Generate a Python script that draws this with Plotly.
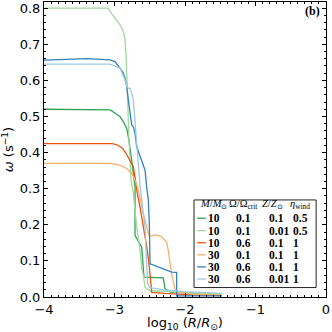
import plotly.graph_objects as go

# log10(R/Rsun) and omega (s^-1) for each model
x_10_01_01 = [-4, -3.06, -2.99, -2.92, -2.875, -2.827, -2.804, -2.78, -2.756, -2.733, -2.709,
              -2.709, -2.614, -2.582, -2.308, -2.284, -2.2, -1.8, -1.5]
y_10_01_01 = [0.52, 0.518, 0.509, 0.499, 0.486, 0.467, 0.444, 0.416, 0.379, 0.342, 0.305,
              0.171, 0.138, 0.055, 0.053, 0.023, 0.013, 0.01, 0.007]

x_10_01_001 = [-4, -3.09, -3.064, -2.993, -2.922, -2.875, -2.851, -2.837, -2.827, -2.813, -2.799,
               -2.78, -2.766, -2.733, -2.685, -2.638, -2.614, -2.591, -2.567, -2.5, -2.2, -1.8, -1.48]
y_10_01_001 = [0.80, 0.80, 0.791, 0.773, 0.754, 0.736, 0.713, 0.676, 0.638, 0.546, 0.453,
               0.379, 0.324, 0.287, 0.194, 0.129, 0.083, 0.060, 0.027, 0.018, 0.014, 0.01, 0.008]

x_10_06_01 = [-4, -3.03, -2.958, -2.887, -2.837, -2.78, -2.733, -2.709, -2.685, -2.638, -2.591,
              -2.553, -2.534, -2.506, -2.486, -2.472, -2.3, -1.9, -1.48]
y_10_06_01 = [0.425, 0.425, 0.421, 0.412, 0.398, 0.379, 0.361, 0.333, 0.296, 0.249, 0.194,
              0.157, 0.129, 0.083, 0.046, 0.013, 0.01, 0.006, 0.004]

x_30_01_01 = [-4, -3.064, -2.922, -2.827, -2.756, -2.709, -2.661, -2.614, -2.567, -2.52, -2.496,
              -2.42, -2.34, -2.26, -2.237, -2.19, -2.143, -2.1, -1.9, -1.5]
y_30_01_01 = [0.37, 0.37, 0.365, 0.356, 0.342, 0.324, 0.296, 0.249, 0.213, 0.176, 0.168,
              0.172, 0.168, 0.152, 0.129, 0.064, 0.023, 0.012, 0.008, 0.006]

x_30_06_01 = [-4, -3.39, -3.064, -2.993, -2.922, -2.875, -2.851, -2.827, -2.804, -2.78, -2.756,
              -2.733, -2.709, -2.685, -2.661, -2.614, -2.591, -2.567, -2.544, -2.52, -2.506,
              -2.496, -2.189, -2.118, -2.118, -1.48]
y_30_06_01 = [0.656, 0.66, 0.657, 0.652, 0.634, 0.62, 0.606, 0.583, 0.546, 0.509, 0.476,
              0.472, 0.453, 0.416, 0.402, 0.379, 0.365, 0.351, 0.305, 0.268, 0.203,
              0.092, 0.069, 0.068, 0.003, 0.003]

x_30_06_001 = [-4, -3.064, -2.922, -2.851, -2.827, -2.804, -2.78, -2.756, -2.733, -2.709, -2.685,
               -2.661, -2.638, -2.591, -2.567, -2.553, -2.544, -2.53, -2.5, -2.3, -2.0, -1.7, -1.47]
y_30_06_001 = [0.645, 0.645, 0.634, 0.601, 0.583, 0.578, 0.578, 0.565, 0.546, 0.472, 0.426,
               0.365, 0.31, 0.231, 0.194, 0.129, 0.064, 0.037, 0.026, 0.02, 0.015, 0.012, 0.01]

mass = ["10", "10", "10", "30", "30", "30"]
omega = ["0.1", "0.1", "0.6", "0.1", "0.6", "0.6"]
metal = ["0.1", "0.01", "0.1", "0.1", "0.1", "0.01"]
eta = ["0.5", "0.5", "1", "1", "1", "1"]
colors = ["#31a354", "#a1d99b", "#e6550d", "#fdae6b", "#3182bd", "#9ecae1"]

xs = [x_10_01_01, x_10_01_001, x_10_06_01, x_30_01_01, x_30_06_01, x_30_06_001]
ys = [y_10_01_01, y_10_01_001, y_10_06_01, y_30_01_01, y_30_06_01, y_30_06_001]

fig = go.Figure()
for i in range(len(xs)):
    fig.add_trace(go.Scatter(x=xs[i], y=ys[i], mode="lines",
                             line=dict(color=colors[i], width=1.3), showlegend=False))

axis_style = dict(showline=True, linecolor="black", linewidth=1, mirror="allticks",
                  ticks="inside", ticklen=4, tickcolor="black", showgrid=False, zeroline=False,
                  tickfont=dict(family="DejaVu Sans", size=13, color="black"))

fig.update_xaxes(range=[-4, 0], dtick=1, tick0=0,
                 minor=dict(ticks="inside", dtick=0.1, ticklen=2, tickcolor="black"),
                 title=dict(text="log<sub>10</sub> (<i>R</i>/<i>R</i><sub>⊙</sub>)",
                            font=dict(family="DejaVu Sans", size=13, color="black"), standoff=4),
                 **axis_style)
fig.update_yaxes(range=[0, 0.817], dtick=0.1, tick0=0, tickformat=".1f",
                 minor=dict(ticks="inside", dtick=0.02, ticklen=2, tickcolor="black"),
                 title=dict(text="<i>ω</i> (s<sup>−1</sup>)",
                            font=dict(family="DejaVu Sans", size=13, color="black"), standoff=4),
                 **axis_style)

# legend table drawn by hand
shapes = [dict(type="rect", xref="paper", yref="paper", x0=0.532, x1=0.965, y0=0.032, y1=0.329,
               line=dict(color="#222222", width=1), fillcolor="white", layer="above")]
annotations = []
serif = "Liberation Serif"
hdr_y = 0.312
headers = [("<i>M</i>/<i>M</i><sub>⊙</sub>", 0.551), ("Ω/Ω<sub>crit</sub>", 0.651),
           ("<i>Z</i>/<i>Z</i><sub>⊙</sub>", 0.770), ("<i>η</i><sub>wind</sub>", 0.870)]
for txt, xp in headers:
    annotations.append(dict(text=txt, x=xp, y=hdr_y, xref="paper", yref="paper",
                            xanchor="left", yanchor="middle", showarrow=False, borderpad=0,
                            font=dict(family=serif, size=10.5, color="black")))
row_y = [0.267, 0.225, 0.184, 0.143, 0.102, 0.061]
col_x = [0.578, 0.677, 0.794, 0.878]
for i in range(len(mass)):
    shapes.append(dict(type="line", xref="paper", yref="paper", x0=0.543, x1=0.574,
                       y0=row_y[i], y1=row_y[i], line=dict(color=colors[i], width=1.3),
                       layer="above"))
    for j, val in enumerate([mass[i], omega[i], metal[i], eta[i]]):
        annotations.append(dict(text="<b>" + val + "</b>", x=col_x[j], y=row_y[i],
                                xref="paper", yref="paper", xanchor="left", yanchor="middle",
                                showarrow=False, borderpad=0,
                                font=dict(family=serif, size=11.5, color="black")))

annotations.append(dict(text="<b>(b)</b>", x=0.986, y=0.969, xref="paper", yref="paper",
                        xanchor="right", yanchor="middle", showarrow=False,
                        font=dict(family=serif, size=12, color="black")))

fig.update_layout(width=332, height=332, margin=dict(l=44, r=6, t=2, b=35),
                  plot_bgcolor="white", paper_bgcolor="white",
                  shapes=shapes, annotations=annotations)

fig.write_html("out.html", config={"displayModeBar": False},
               post_script="document.body.style.margin='0';")
